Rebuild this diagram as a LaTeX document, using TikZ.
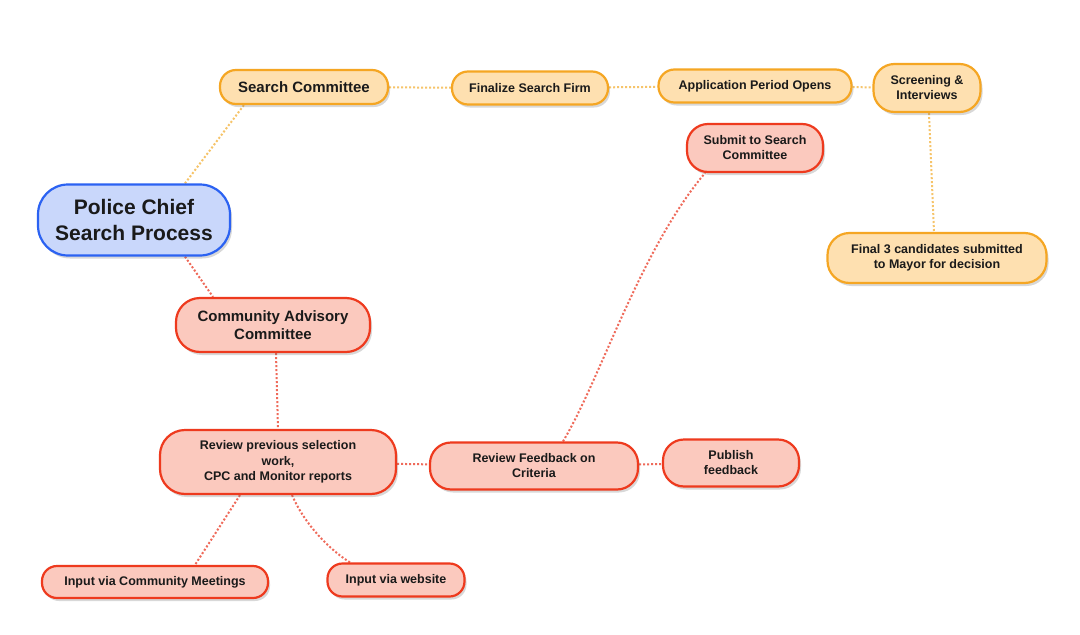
\documentclass[tikz,border=0pt]{standalone}
\usepackage{fontspec}
\setmainfont{Liberation Sans}
\usetikzlibrary{shadows,backgrounds}
\definecolor{obord}{HTML}{F5A623}
\definecolor{ofill}{HTML}{FEE0B0}
\definecolor{rbord}{HTML}{EE3A1E}
\definecolor{rfill}{HTML}{FBC9BE}
\definecolor{bbord}{HTML}{2B62F2}
\definecolor{bfill}{HTML}{C9D7FB}
\definecolor{oline}{HTML}{F6C46A}
\definecolor{rline}{HTML}{EF6A5A}
\definecolor{txt}{HTML}{1A1A1A}
\tikzset{
  box/.style={draw, line width=2.2pt, align=center, inner sep=2pt, text=txt,
    font=\bfseries, drop shadow={shadow xshift=2pt, shadow yshift=-3pt, opacity=0.25, fill=black!60}},
  obox/.style={box, draw=obord, fill=ofill},
  rbox/.style={box, draw=rbord, fill=rfill},
  bbox/.style={box, draw=bbord, fill=bfill},
  oconn/.style={draw=oline, line width=2pt, dotted},
  rconn/.style={draw=rline, line width=2pt, dotted},
}
\begin{document}
\begin{tikzpicture}[x=1pt,y=-1pt]
\useasboundingbox (0,0) rectangle (1080,635);
\node[bbox, minimum width=192pt, minimum height=71pt, rounded corners=30pt, font=\bfseries\fontsize{21}{26}\selectfont] (pc) at (134,220) {Police Chief\\Search Process};
\node[obox, minimum width=168pt, minimum height=34pt, rounded corners=16pt, font=\bfseries\fontsize{15}{18}\selectfont] (sc) at (304,87) {Search Committee};
\node[obox, minimum width=156pt, minimum height=33pt, rounded corners=16pt, font=\bfseries\fontsize{12.5}{15}\selectfont] (fs) at (530,88) {Finalize Search Firm};
\node[obox, minimum width=193pt, minimum height=33pt, rounded corners=16pt, font=\bfseries\fontsize{12.5}{15}\selectfont] (ap) at (755,86) {Application Period Opens};
\node[obox, minimum width=107pt, minimum height=48pt, rounded corners=21pt, font=\bfseries\fontsize{12.5}{15}\selectfont] (si) at (927,88) {Screening \&\\Interviews};
\node[obox, minimum width=219pt, minimum height=50pt, rounded corners=22pt, font=\bfseries\fontsize{12.5}{15}\selectfont] (f3) at (937,258) {Final 3 candidates submitted\\to Mayor for decision};
\node[rbox, minimum width=136pt, minimum height=48pt, rounded corners=21pt, font=\bfseries\fontsize{12.5}{15}\selectfont] (ss) at (755,148) {Submit to Search\\Committee};
\node[rbox, minimum width=194pt, minimum height=54pt, rounded corners=24pt, font=\bfseries\fontsize{15}{18}\selectfont] (cac) at (273,325) {Community Advisory\\Committee};
\node[rbox, minimum width=236pt, minimum height=64pt, rounded corners=25pt, font=\bfseries\fontsize{12.5}{15.5}\selectfont] (rp) at (278,462) {Review previous selection\\work,\\CPC and Monitor reports};
\node[rbox, minimum width=208pt, minimum height=47pt, rounded corners=21pt, font=\bfseries\fontsize{12.5}{15}\selectfont] (rf) at (534,466) {Review Feedback on\\Criteria};
\node[rbox, minimum width=136pt, minimum height=47pt, rounded corners=21pt, font=\bfseries\fontsize{12.5}{15}\selectfont] (pf) at (731,463) {Publish\\feedback};
\node[rbox, minimum width=226pt, minimum height=32pt, rounded corners=15pt, font=\bfseries\fontsize{12.5}{15}\selectfont] (icm) at (155,582) {Input via Community Meetings};
\node[rbox, minimum width=137pt, minimum height=33pt, rounded corners=15pt, font=\bfseries\fontsize{12.5}{15}\selectfont] (iw) at (396,580) {Input via website};
\begin{pgfonlayer}{background}
\fill[white] (0,0) rectangle (1080,635);
\draw[oconn] ([xshift=25pt]sc.south west) -- ([xshift=51pt]pc.north);
\draw[oconn] (sc) -- (fs);
\draw[oconn] (fs) -- (ap);
\draw[oconn] (ap) -- (si);
\draw[oconn] ([xshift=2pt]si.south) -- ([xshift=-3pt]f3.north);
\draw[rconn] ([xshift=51pt]pc.south) -- ([xshift=-60pt]cac.north);
\draw[rconn] ([xshift=3pt]cac.south) -- (rp.north);
\draw[rconn] (rp) -- (rf);
\draw[rconn] (rf) -- (pf);
\draw[rconn] ([xshift=29pt]rf.north) .. controls (600,380) and (640,250) .. ([xshift=-50pt]ss.south);
\draw[rconn] ([xshift=-38pt]rp.south) -- ([xshift=40pt]icm.north);
\draw[rconn] ([xshift=14pt]rp.south) .. controls (305,525) and (330,550) .. ([xshift=-46pt]iw.north);
\end{pgfonlayer}
\end{tikzpicture}
\end{document}
